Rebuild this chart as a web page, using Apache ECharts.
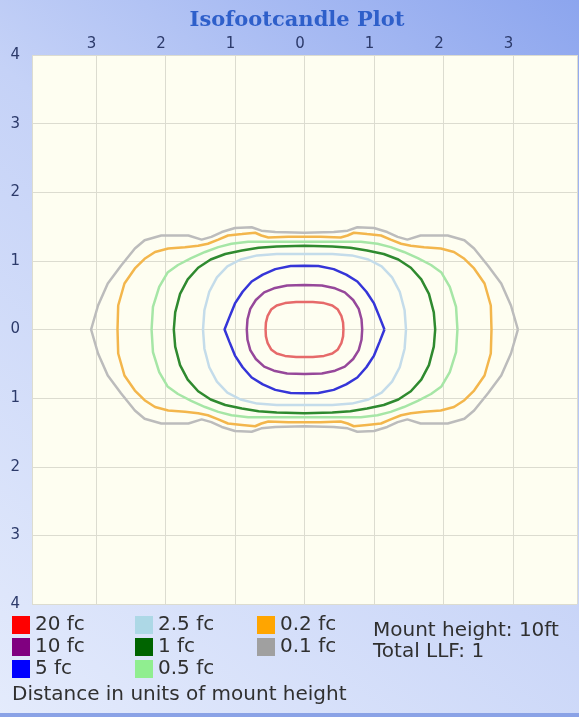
<!DOCTYPE html>
<html>
<head>
<meta charset="utf-8">
<script src="https://cdn.jsdelivr.net/npm/echarts@6/dist/echarts.min.js"></script>
<style>
html,body{margin:0;padding:0;background:#c8d4f7;}
#chart{width:579px;height:717px;}
</style>
</head>
<body>
<div id="chart"></div>
<script>
// Contour levels (legend labels)
var levels = ['20 fc', '10 fc', '5 fc', '2.5 fc', '1 fc', '0.5 fc', '0.2 fc', '0.1 fc'];
// Axis tick values
var xTicks = [-3, -2, -1, 0, 1, 2, 3];
var yTicks = [-4, -3, -2, -1, 0, 1, 2, 3, 4];

// First-quadrant contour points, from (x,0) round to (0,y)
var q20 = [[0.56,0],[0.555,0.10],[0.53,0.20],[0.48,0.29],[0.40,0.35],[0.28,0.385],[0.12,0.40],[0,0.40]];
var q10 = [[0.83,0],[0.82,0.15],[0.78,0.30],[0.70,0.43],[0.58,0.54],[0.44,0.60],[0.25,0.64],[0,0.65]];
var q5 = [[1.15,0],[1.08,0.18],[1.00,0.38],[0.89,0.55],[0.76,0.70],[0.60,0.80],[0.42,0.88],[0.20,0.925],[0,0.93]];
var q2_5 = [[1.46,0],[1.44,0.28],[1.37,0.55],[1.26,0.76],[1.11,0.92],[0.92,1.02],[0.68,1.08],[0.40,1.10],[0,1.10]];
var q1 = [[1.88,0],[1.86,0.25],[1.79,0.52],[1.68,0.73],[1.53,0.90],[1.35,1.02],[1.14,1.10],[0.90,1.15],[0.66,1.19],[0.40,1.21],[0,1.22]];
var q0_5 = [[2.20,0],[2.18,0.33],[2.09,0.62],[1.97,0.83],[1.82,0.94],[1.63,1.04],[1.43,1.13],[1.24,1.20],[1.05,1.25],[0.81,1.28],[0.42,1.28],[0,1.28]];
var q0_2 = [[2.69,0],[2.68,0.35],[2.59,0.67],[2.44,0.89],[2.30,1.03],[2.15,1.13],[1.96,1.18],[1.72,1.20],[1.53,1.22],[1.39,1.25],[1.24,1.31],[1.10,1.37],[0.90,1.39],[0.71,1.41],[0.62,1.37],[0.52,1.34],[0.23,1.35],[0,1.35]];
var q0_1 = [[3.07,0],[2.97,0.35],[2.83,0.67],[2.64,0.93],[2.44,1.18],[2.30,1.30],[2.06,1.37],[1.67,1.37],[1.48,1.31],[1.34,1.35],[1.19,1.42],[1.00,1.48],[0.76,1.49],[0.62,1.44],[0.42,1.42],[0,1.41]];
var quadrants = [q20, q10, q5, q2_5, q1, q0_5, q0_2, q0_1];

// Styles
var legendColors = ['#ff0000', '#800080', '#0000ff', '#add8e6', '#006400', '#90ee90', '#ffa500', '#a0a0a0'];
var lineColors = ['#e66a6a', '#96489a', '#3535d8', '#c4dcea', '#2f8a2f', '#a6e6a6', '#f3b64c', '#bcbcbc'];

function closedLoop(q) {
  var pts = [];
  var i;
  for (i = 0; i < q.length; i++) pts.push([q[i][0], q[i][1]]);
  for (i = q.length - 2; i >= 0; i--) pts.push([-q[i][0], q[i][1]]);
  for (i = 1; i < q.length; i++) pts.push([-q[i][0], -q[i][1]]);
  for (i = q.length - 2; i >= 0; i--) pts.push([q[i][0], -q[i][1]]);
  return pts;
}

var series = levels.map(function (name, i) {
  return {
    name: name,
    type: 'line',
    data: closedLoop(quadrants[i]),
    showSymbol: false,
    symbol: 'none',
    smooth: false,
    silent: true,
    z: 10 - i,
    itemStyle: { color: legendColors[i] },
    lineStyle: { color: lineColors[i], width: 2.5 }
  };
});

var fontFam = '"DejaVu Sans", Verdana, sans-serif';
function legendBlock(names, left) {
  return {
    orient: 'vertical',
    left: left,
    top: 614,
    padding: 0,
    itemGap: 0,
    itemWidth: 18,
    itemHeight: 18,
    icon: 'rect',
    selectedMode: false,
    data: names,
    textStyle: { fontFamily: fontFam, fontSize: 20, color: '#303030', lineHeight: 22 }
  };
}

var chart = echarts.init(document.getElementById('chart'), null, { renderer: 'canvas' });
chart.setOption({
  animation: false,
  backgroundColor: new echarts.graphic.LinearGradient(1, 0, 0, 1, [
    { offset: 0, color: '#8ca5ee' },
    { offset: 0.45, color: '#c5d2f7' },
    { offset: 1, color: '#e4ebfc' }
  ]),
  title: {
    text: 'Isofootcandle Plot',
    left: 292,
    textAlign: 'center',
    top: 5,
    textStyle: { fontFamily: '"DejaVu Serif", "Liberation Serif", serif', fontWeight: 'bold', fontSize: 21, color: '#2e5fca' }
  },
  legend: [
    legendBlock(levels.slice(0, 3), 12),
    legendBlock(levels.slice(3, 6), 135),
    legendBlock(levels.slice(6, 8), 257)
  ],
  grid: {
    left: 32, top: 55, width: 545, height: 549,
    show: true, backgroundColor: '#fefef1', borderWidth: 0
  },
  xAxis: {
    type: 'value',
    position: 'top',
    min: -3.92,
    max: 3.92,
    splitNumber: 8,
    axisLine: { show: false },
    axisTick: { show: false },
    axisLabel: {
      show: true,
      showMinLabel: false,
      showMaxLabel: false,
      margin: 3,
      padding: [0, 9, 0, 0],
      fontFamily: fontFam, fontSize: 15, color: '#2c3a6a',
      formatter: function (v) { return xTicks.indexOf(Math.round(v)) >= 0 && Math.abs(v - Math.round(v)) < 1e-6 ? String(Math.abs(v)) : ''; }
    },
    splitLine: { show: true, lineStyle: { color: '#dcdcd0', width: 1 } }
  },
  yAxis: {
    type: 'value',
    min: -4,
    max: 4,
    interval: 1,
    axisLine: { show: false },
    axisTick: { show: false },
    axisLabel: {
      margin: 12,
      fontFamily: fontFam, fontSize: 15, color: '#2c3a6a',
      formatter: function (v) { return yTicks.indexOf(v) >= 0 ? String(Math.abs(v)) : ''; }
    },
    splitLine: { show: true, lineStyle: { color: '#dcdcd0', width: 1 } }
  },
  graphic: [
    { type: 'text', left: 373, top: 621, style: { text: 'Mount height: 10ft', font: '20px ' + fontFam, fill: '#303030' } },
    { type: 'text', left: 373, top: 642, style: { text: 'Total LLF: 1', font: '20px ' + fontFam, fill: '#303030' } },
    { type: 'text', left: 12, top: 685, style: { text: 'Distance in units of mount height', font: '20px ' + fontFam, fill: '#303030' } },
    { type: 'rect', left: 0, top: 713, shape: { width: 579, height: 4 }, style: { fill: '#8aa2e6' } }
  ],
  series: series
});
</script>
</body>
</html>
